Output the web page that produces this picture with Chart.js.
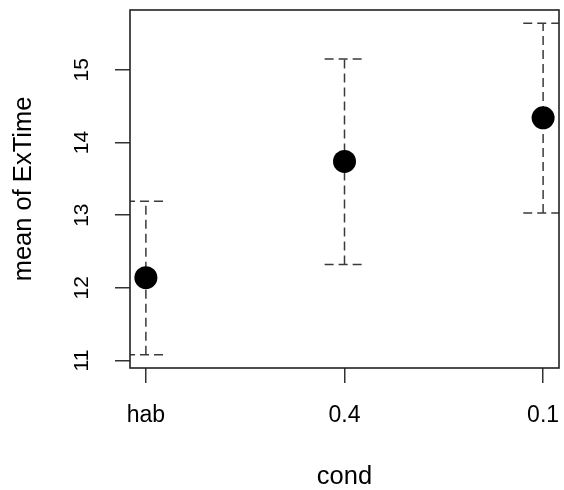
<!DOCTYPE html>
<html>
<head>
<meta charset="utf-8">
<script src="https://cdn.jsdelivr.net/npm/chart.js@4/dist/chart.umd.min.js"></script>
<style>
  html, body { margin: 0; padding: 0; background: #fff; }
  #wrap { width: 564px; height: 490px; }
</style>
</head>
<body>
<div id="wrap"><canvas id="c" width="564" height="490"></canvas></div>
<script>
// ---- data ----
const categories = ['hab', '0.4', '0.1'];
const means = [12.14, 13.74, 14.34];
const lower = [11.08, 12.32, 13.03];
const upper = [13.19, 15.15, 15.64];
const yTicks = [11, 12, 13, 14, 15];
const xTitle = 'cond';
const yTitle = 'mean of ExTime';

// R-style 4% axis extension
const xIdx = categories.map((_, i) => i);
const xPad = 0.04 * (xIdx.length - 1);
const yLo = Math.min(...lower), yHi = Math.max(...upper);
const yPad = 0.04 * (yHi - yLo);
const capHalf = 0.1;

const FONT = "'Liberation Sans', Arial, Helvetica, sans-serif";
Chart.defaults.font.family = FONT;
Chart.defaults.color = '#000';

const datasets = [{
  label: 'mean',
  data: categories.map((c, i) => ({ x: i, y: means[i] })),
  pointRadius: 11.5,
  pointHoverRadius: 11.5,
  pointBackgroundColor: '#000',
  pointBorderColor: '#000',
  pointBorderWidth: 0,
  showLine: false,
  order: 0
}];
const ebStyle = { borderColor: '#3a3a3a', borderWidth: 1.5, borderDash: [9, 5], pointRadius: 0, pointHoverRadius: 0, showLine: true, order: 1, fill: false };
categories.forEach((c, i) => {
  datasets.push(Object.assign({ label: c + ' bar', data: [{ x: i, y: lower[i] }, { x: i, y: upper[i] }] }, ebStyle));
  datasets.push(Object.assign({ label: c + ' top', data: [{ x: i - capHalf, y: upper[i] }, { x: i + capHalf, y: upper[i] }] }, ebStyle));
  datasets.push(Object.assign({ label: c + ' bot', data: [{ x: i - capHalf, y: lower[i] }, { x: i + capHalf, y: lower[i] }] }, ebStyle));
});

const boxPlugin = {
  id: 'box',
  afterDraw(chart) {
    const { ctx, chartArea: a } = chart;
    ctx.save();
    ctx.strokeStyle = '#222';
    ctx.lineWidth = 1.6;
    ctx.strokeRect(a.left, a.top, a.right - a.left, a.bottom - a.top);
    ctx.restore();
  }
};

function noPad(s) { s.paddingTop = 0; s.paddingBottom = 0; s.paddingLeft = 0; s.paddingRight = 0; }

new Chart(document.getElementById('c'), {
  type: 'scatter',
  data: { datasets },
  plugins: [boxPlugin],
  options: {
    responsive: false,
    animation: false,
    events: [],
    layout: { autoPadding: false, padding: { top: 10, right: 5, bottom: 0, left: 0 } },
    plugins: { legend: { display: false }, tooltip: { enabled: false } },
    scales: {
      x: {
        type: 'linear',
        min: -xPad,
        max: (xIdx.length - 1) + xPad,
        afterBuildTicks(s) { s.ticks = xIdx.map(v => ({ value: v })); },
        afterFit(s) { s.height = 122; noPad(s); },
        ticks: {
          callback: (v) => categories[v] !== undefined ? categories[v] : '',
          font: { size: 23 },
          padding: 19,
          maxRotation: 0,
          minRotation: 0,
          color: '#000'
        },
        grid: { drawOnChartArea: false, drawTicks: true, tickLength: 15, color: '#333', lineWidth: 1.5 },
        border: { display: false },
        title: { display: true, text: xTitle, font: { size: 25.5, lineHeight: 1 }, padding: { top: 0, bottom: 0 }, color: '#000' }
      },
      y: {
        type: 'linear',
        min: yLo - yPad,
        max: yHi + yPad,
        afterBuildTicks(s) { s.ticks = yTicks.map(v => ({ value: v })); },
        afterFit(s) { s.width = 130; noPad(s); },
        ticks: {
          font: { size: 21 },
          padding: 21,
          minRotation: 90,
          maxRotation: 90,
          crossAlign: 'center',
          color: '#000'
        },
        grid: { drawOnChartArea: false, drawTicks: true, tickLength: 15, color: '#333', lineWidth: 1.5 },
        border: { display: false },
        title: { display: true, text: yTitle, font: { size: 25.5, lineHeight: 1 }, padding: { top: 11.5, bottom: 0 }, color: '#000' }
      }
    }
  }
});
</script>
</body>
</html>
